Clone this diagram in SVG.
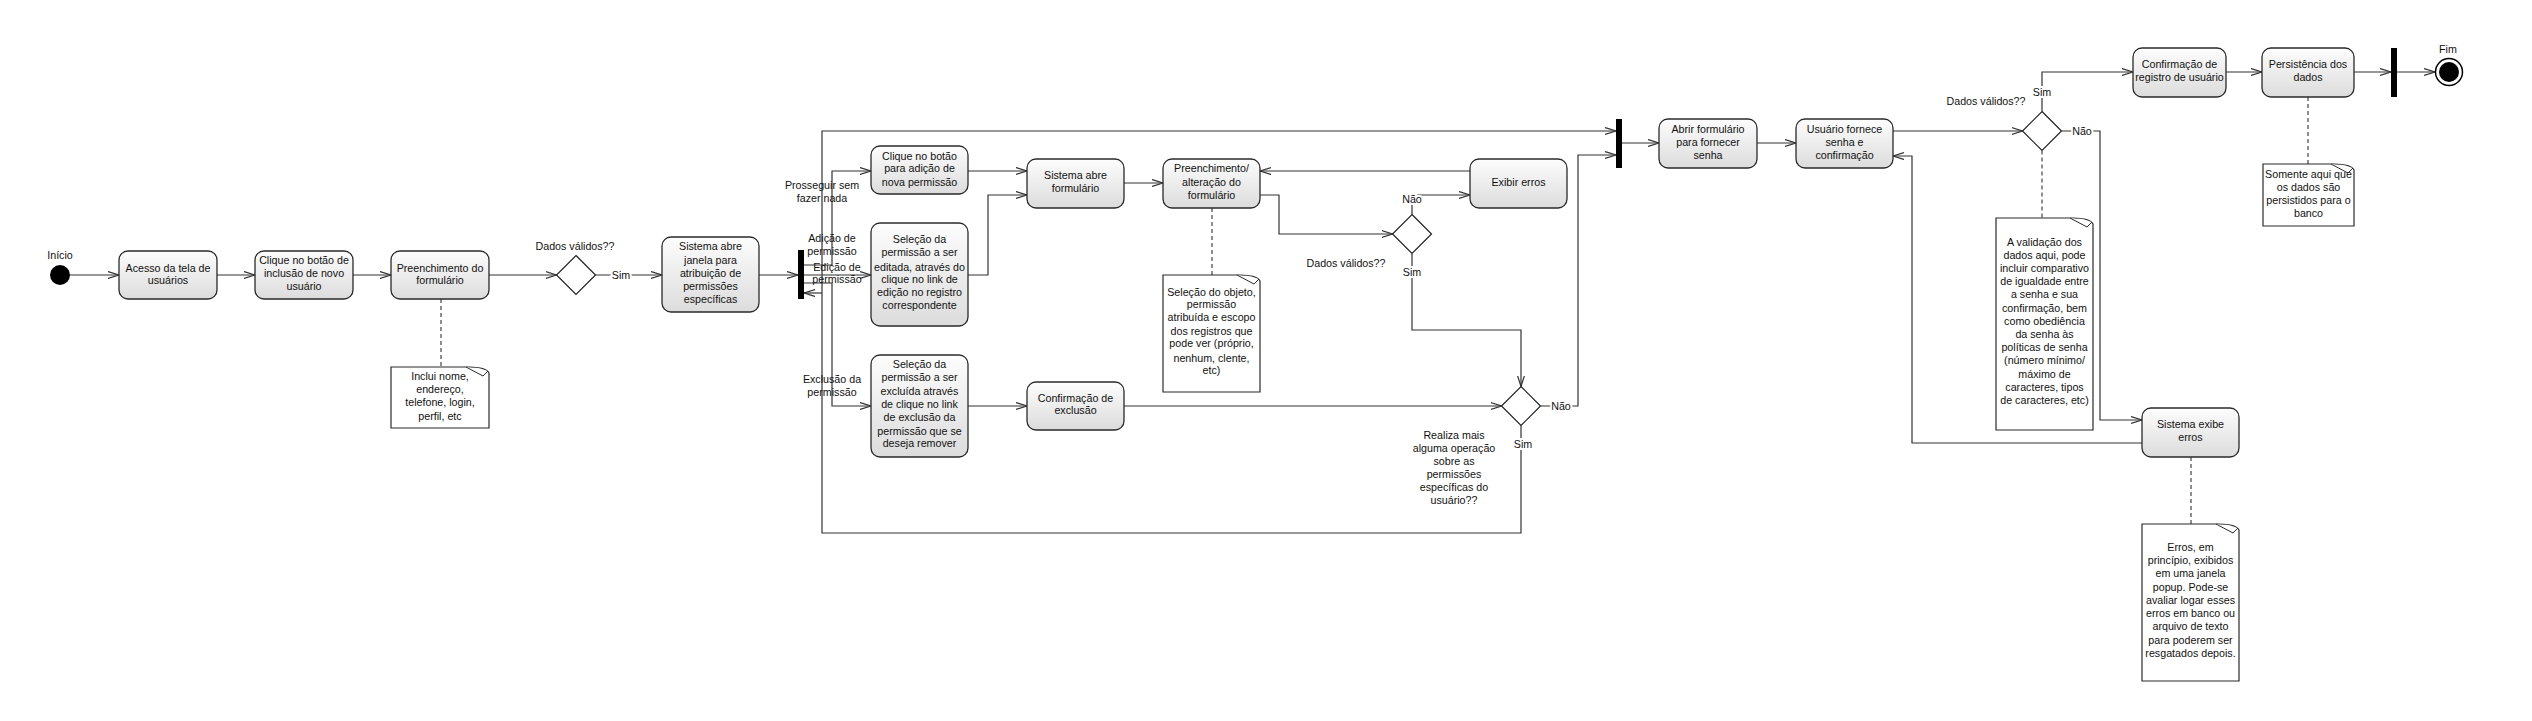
<svg xmlns="http://www.w3.org/2000/svg" width="2532" height="721" viewBox="0 0 2532 721">
<style>
text{font-family:"Liberation Sans",Arial,sans-serif;font-size:10.7px;fill:#111;text-anchor:middle}
.node{fill:url(#g);stroke:#2a2a2a;stroke-width:1.3}
.note{fill:#fff;stroke:#2a2a2a;stroke-width:1.2}
.fold{fill:#fff;stroke:#2a2a2a;stroke-width:1}
.dia{fill:#fff;stroke:#222;stroke-width:1.2}
.bar{fill:#000}
.c path{fill:none;stroke:#333;stroke-width:1.2}
.c path.a{marker-end:url(#arr)}
.c path.d{stroke-dasharray:4 3;stroke:#444}
.lbl{paint-order:stroke;stroke:#fff;stroke-width:4px}
</style>
<defs>
<linearGradient id="g" x1="0" y1="0" x2="0" y2="1">
<stop offset="0" stop-color="#fdfdfd"/>
<stop offset="1" stop-color="#dcdcdc"/>
</linearGradient>
<marker id="arr" markerWidth="14" markerHeight="10" refX="11" refY="4" orient="auto" markerUnits="userSpaceOnUse">
<path d="M0,0.5 L11,4 L0,7.5" fill="none" stroke="#333" stroke-width="1.2"/>
</marker>
</defs>
<rect width="2532" height="721" fill="#fff"/>

<g class="c" id="connectors">
<path class="a" d="M70,275 H119"/>
<path class="a" d="M217,275 H255"/>
<path class="a" d="M353,275 H391"/>
<path class="a" d="M489,275 H556.5"/>
<path class="a" d="M595.5,275 H662"/>
<path class="a" d="M759,275 H798"/>
<path class="a" d="M804,265 H832 V171 H871"/>
<path class="a" d="M804,275 H871"/>
<path class="a" d="M804,283 H832 V406 H871"/>
<path class="a" d="M968,171 H1027"/>
<path class="a" d="M968,275 H988 V195 H1027"/>
<path class="a" d="M1124,183 H1163"/>
<path class="a" d="M1470,171 H1260"/>
<path class="a" d="M1260,195 H1279 V234 H1392.5"/>
<path class="a" d="M1412,214.5 V195 H1470"/>
<path class="a" d="M1412,253.5 V330 H1521 V386.5"/>
<path class="a" d="M968,406 H1027"/>
<path class="a" d="M1124,406 H1501.5"/>
<path class="a" d="M1540.5,406 H1578 V155 H1616"/>
<path class="a" d="M1521,425.5 V533 H822 V131 H1616"/>
<path class="a" d="M822,293 H804"/>
<path class="a" d="M1622,143 H1659"/>
<path class="a" d="M1757,143 H1796"/>
<path class="a" d="M1893,131 H2022.5"/>
<path class="a" d="M2042,111.5 V72 H2133"/>
<path class="a" d="M2061.5,131 H2100 V420 H2142"/>
<path class="a" d="M2142,443 H1912 V156 H1893"/>
<path class="a" d="M2226,72 H2262"/>
<path class="a" d="M2354,72 H2391"/>
<path class="a" d="M2397,72 H2435"/>
<path class="d" d="M441,299 V367"/>
<path class="d" d="M1212,208 V275"/>
<path class="d" d="M2042,150.5 V218"/>
<path class="d" d="M2308,97 V164"/>
<path class="d" d="M2191,457 V524"/>
<text class="lbl" x="621" y="279">Sim</text>
<text class="lbl" x="1412" y="203">Não</text>
<text class="lbl" x="1412" y="276">Sim</text>
<text class="lbl" x="1561" y="410">Não</text>
<text class="lbl" x="1523" y="448">Sim</text>
<text class="lbl" x="2042" y="96">Sim</text>
<text class="lbl" x="2082" y="135">Não</text>
<text x="822" y="189">Prosseguir sem</text>
<text x="822" y="202">fazer nada</text>
<text x="832" y="242">Adição de</text>
<text x="832" y="255">permissão</text>
<text x="837" y="271">Edição de</text>
<text x="837" y="283">permissão</text>
<text x="832" y="383">Exclusão da</text>
<text x="832" y="396">permissão</text>
</g>

<g id="start"><circle cx="60" cy="275" r="10" fill="#000"/><text x="60" y="259">Início</text></g>
<g id="n1"><rect class="node" x="119" y="251" width="98" height="48" rx="9"/><text x="168" y="272">Acesso da tela de</text><text x="168" y="284">usuários</text></g>
<g id="n2"><rect class="node" x="255" y="251" width="98" height="48" rx="9"/><text x="304" y="264">Clique no botão de</text><text x="304" y="277">inclusão de novo</text><text x="304" y="290">usuário</text></g>
<g id="n3"><rect class="node" x="391" y="251" width="98" height="48" rx="9"/><text x="440" y="272">Preenchimento do</text><text x="440" y="284">formulário</text></g>
<g id="d1"><path class="dia" d="M576,255.5 L595.5,275 L576,294.5 L556.5,275 Z"/><text x="575" y="250">Dados válidos??</text></g>
<g id="n4"><rect class="node" x="662" y="237" width="97" height="75" rx="9"/><text x="710.5" y="250">Sistema abre</text><text x="710.5" y="264">janela para</text><text x="710.5" y="277">atribuição de</text><text x="710.5" y="290">permissões</text><text x="710.5" y="303">específicas</text></g>
<g id="fork"><rect class="bar" x="798" y="250" width="6" height="49"/></g>
<g id="n5"><rect class="node" x="871" y="146" width="97" height="48" rx="9"/><text x="919.5" y="160">Clique no botão</text><text x="919.5" y="172">para adição de</text><text x="919.5" y="186">nova permissão</text></g>
<g id="n6"><rect class="node" x="871" y="223" width="97" height="103" rx="9"/><text x="919.5" y="243">Seleção da</text><text x="919.5" y="256">permissão a ser</text><text x="919.5" y="271">editada, através do</text><text x="919.5" y="283">clique no link de</text><text x="919.5" y="296">edição no registro</text><text x="919.5" y="309">correspondente</text></g>
<g id="n7"><rect class="node" x="871" y="355" width="97" height="102" rx="9"/><text x="919.5" y="368">Seleção da</text><text x="919.5" y="381">permissão a ser</text><text x="919.5" y="395">excluída através</text><text x="919.5" y="408">de clique no link</text><text x="919.5" y="421">de exclusão da</text><text x="919.5" y="435">permissão que se</text><text x="919.5" y="447">deseja remover</text></g>
<g id="n8"><rect class="node" x="1027" y="159" width="97" height="49" rx="9"/><text x="1075.5" y="179">Sistema abre</text><text x="1075.5" y="192">formulário</text></g>
<g id="n9"><rect class="node" x="1027" y="382" width="97" height="48" rx="9"/><text x="1075.5" y="402">Confirmação de</text><text x="1075.5" y="414">exclusão</text></g>
<g id="n10"><rect class="node" x="1163" y="159" width="97" height="49" rx="9"/><text x="1211.5" y="172">Preenchimento/</text><text x="1211.5" y="186">alteração do</text><text x="1211.5" y="199">formulário</text></g>
<g id="n11"><rect class="node" x="1470" y="159" width="97" height="49" rx="9"/><text x="1518.5" y="186">Exibir erros</text></g>
<g id="d2"><path class="dia" d="M1412,214.5 L1431.5,234 L1412,253.5 L1392.5,234 Z"/><text x="1346" y="267">Dados válidos??</text></g>
<g id="d3"><path class="dia" d="M1521,386.5 L1540.5,406 L1521,425.5 L1501.5,406 Z"/><text x="1454" y="439">Realiza mais</text><text x="1454" y="452">alguma operação</text><text x="1454" y="465">sobre as</text><text x="1454" y="478">permissões</text><text x="1454" y="491">específicas do</text><text x="1454" y="504">usuário??</text></g>
<g id="join"><rect class="bar" x="1616" y="119" width="6" height="49"/></g>
<g id="n12"><rect class="node" x="1659" y="119" width="98" height="49" rx="9"/><text x="1708" y="133">Abrir formulário</text><text x="1708" y="146">para fornecer</text><text x="1708" y="159">senha</text></g>
<g id="n13"><rect class="node" x="1796" y="119" width="97" height="49" rx="9"/><text x="1844.5" y="133">Usuário fornece</text><text x="1844.5" y="146">senha e</text><text x="1844.5" y="159">confirmação</text></g>
<g id="d4"><path class="dia" d="M2042,111.5 L2061.5,131 L2042,150.5 L2022.5,131 Z"/><text x="1986" y="105">Dados válidos??</text></g>
<g id="n14"><rect class="node" x="2133" y="48" width="93" height="49" rx="9"/><text x="2179.5" y="68">Confirmação de</text><text x="2179.5" y="81">registro de usuário</text></g>
<g id="n15"><rect class="node" x="2262" y="48" width="92" height="49" rx="9"/><text x="2308" y="68">Persistência dos</text><text x="2308" y="81">dados</text></g>
<g id="bar2"><rect class="bar" x="2391" y="48" width="6" height="49"/></g>
<g id="end"><circle cx="2449" cy="72" r="13.5" fill="#fff" stroke="#000" stroke-width="1.5"/><circle cx="2449" cy="72" r="10" fill="#000"/><text x="2448" y="53">Fim</text></g>
<g id="n16"><rect class="node" x="2142" y="408" width="97" height="49" rx="9"/><text x="2190.5" y="428">Sistema exibe</text><text x="2190.5" y="441">erros</text></g>

<g id="note1"><path class="note" d="M391,367 H469 Q486,367 489,373 V428 H391 Z"/><path class="fold" d="M466,367 L483,376 L488,371"/><text x="440" y="380">Inclui nome,</text><text x="440" y="393">endereço,</text><text x="440" y="406">telefone, login,</text><text x="440" y="420">perfil, etc</text></g>
<g id="note2"><path class="note" d="M1163,275 H1240 Q1257,275 1260,281 V392 H1163 Z"/><path class="fold" d="M1237,275 L1254,284 L1259,279"/><text x="1211.5" y="296">Seleção do objeto,</text><text x="1211.5" y="308">permissão</text><text x="1211.5" y="321">atribuída e escopo</text><text x="1211.5" y="335">dos registros que</text><text x="1211.5" y="347">pode ver (próprio,</text><text x="1211.5" y="362">nenhum, clente,</text><text x="1211.5" y="374">etc)</text></g>
<g id="note3"><path class="note" d="M1996,218 H2073 Q2090,218 2093,224 V430 H1996 Z"/><path class="fold" d="M2070,218 L2087,227 L2092,222"/><text x="2044.5" y="246">A validação dos</text><text x="2044.5" y="259">dados aqui, pode</text><text x="2044.5" y="272">incluir comparativo</text><text x="2044.5" y="285">de igualdade entre</text><text x="2044.5" y="298">a senha e sua</text><text x="2044.5" y="312">confirmação, bem</text><text x="2044.5" y="325">como obediência</text><text x="2044.5" y="338">da senha às</text><text x="2044.5" y="351">políticas de senha</text><text x="2044.5" y="364">(número mínimo/</text><text x="2044.5" y="378">máximo de</text><text x="2044.5" y="391">caracteres, tipos</text><text x="2044.5" y="404">de caracteres, etc)</text></g>
<g id="note4"><path class="note" d="M2263,164 H2334 Q2351,164 2354,170 V226 H2263 Z"/><path class="fold" d="M2331,164 L2348,173 L2353,168"/><text x="2308.5" y="178">Somente aqui que</text><text x="2308.5" y="191">os dados são</text><text x="2308.5" y="204">persistidos para o</text><text x="2308.5" y="217">banco</text></g>
<g id="note5"><path class="note" d="M2142,524 H2219 Q2236,524 2239,530 V681 H2142 Z"/><path class="fold" d="M2216,524 L2233,533 L2238,528"/><text x="2190.5" y="551">Erros, em</text><text x="2190.5" y="564">princípio, exibidos</text><text x="2190.5" y="577">em uma janela</text><text x="2190.5" y="591">popup. Pode-se</text><text x="2190.5" y="604">avaliar logar esses</text><text x="2190.5" y="617">erros em banco ou</text><text x="2190.5" y="630">arquivo de texto</text><text x="2190.5" y="644">para poderem ser</text><text x="2190.5" y="657">resgatados depois.</text></g>
</svg>
